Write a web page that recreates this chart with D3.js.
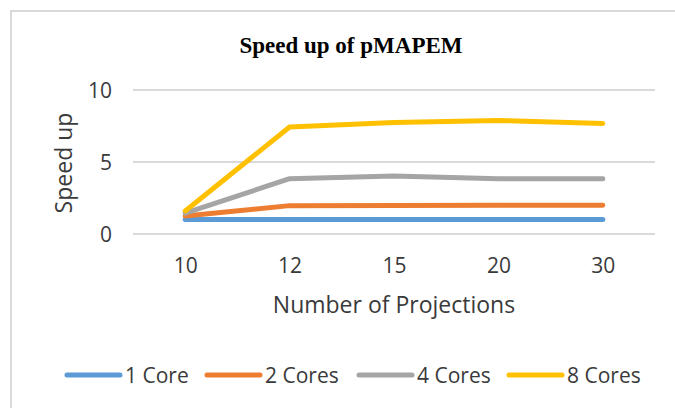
<!DOCTYPE html>
<meta charset="utf-8">
<style>
  body { margin: 0; background: #fff; }
  svg { display: block; }
  .grid line { stroke: #d9d9d9; stroke-width: 2px; }
  .tick text, .legend text, .axis-title { font-family: "Open Sans", sans-serif; fill: #3a3a3a; }
</style>
<body>
<script src="https://cdn.jsdelivr.net/npm/d3@7"></script>
<script>
  var projections = ["10", "12", "15", "20", "30"];
  var seriesNames = ["1 Core", "2 Cores", "4 Cores", "8 Cores"];
  var core1 = [1.0, 1.0, 1.0, 1.0, 1.0];
  var core2 = [1.25, 1.97, 1.98, 1.99, 2.0];
  var core4 = [1.45, 3.84, 4.02, 3.84, 3.84];
  var core8 = [1.6, 7.43, 7.75, 7.89, 7.68];
  var yTicks = [0, 5, 10];
  var colors = ["#5b9bd5", "#ed7d31", "#a5a5a5", "#ffc000"];

  var series = [core1, core2, core4, core8];

  var W = 675, H = 408;
  var plot = { left: 133, right: 655, top: 90, bottom: 234 };

  var svg = d3.select("body").append("svg")
    .attr("width", W)
    .attr("height", H);

  // chart area border (right/bottom edges fall outside the picture)
  svg.append("rect")
    .attr("x", 11).attr("y", 11)
    .attr("width", 720).attr("height", 440)
    .attr("fill", "#fff")
    .attr("stroke", "#d9d9d9")
    .attr("stroke-width", 2);

  var x = d3.scalePoint()
    .domain(projections)
    .range([plot.left, plot.right])
    .padding(0.5);

  var y = d3.scaleLinear()
    .domain([0, 10])
    .range([plot.bottom, plot.top]);

  // gridlines
  svg.append("g")
    .attr("class", "grid")
    .selectAll("line")
    .data(yTicks)
    .enter().append("line")
    .attr("x1", plot.left)
    .attr("x2", plot.right)
    .attr("y1", function (d) { return y(d); })
    .attr("y2", function (d) { return y(d); });

  // y axis labels
  var yAxis = d3.axisLeft(y).tickValues(yTicks).tickSize(0).tickPadding(0);
  var gy = svg.append("g")
    .attr("transform", "translate(112,0)")
    .call(yAxis);
  gy.select(".domain").remove();
  gy.selectAll(".tick text")
    .attr("font-size", 21)
    .attr("dy", "0.35em");

  // x axis labels
  var xAxis = d3.axisBottom(x).tickSize(0).tickPadding(0);
  var gx = svg.append("g")
    .attr("transform", "translate(0,258)")
    .call(xAxis);
  gx.select(".domain").remove();
  gx.selectAll(".tick text")
    .attr("font-size", 21)
    .attr("dy", "0.72em");

  // lines
  var line = d3.line()
    .x(function (d, i) { return x(projections[i]); })
    .y(function (d) { return y(d); });

  svg.append("g").selectAll("path")
    .data(series)
    .enter().append("path")
    .attr("d", line)
    .attr("fill", "none")
    .attr("stroke", function (d, i) { return colors[i]; })
    .attr("stroke-width", 5)
    .attr("stroke-linecap", "round")
    .attr("stroke-linejoin", "round");

  // title
  svg.append("text")
    .attr("x", 351)
    .attr("y", 53)
    .attr("text-anchor", "middle")
    .attr("font-family", "'Liberation Serif', 'Times New Roman', serif")
    .attr("font-weight", "bold")
    .attr("font-size", 23)
    .attr("fill", "#000")
    .text("Speed up of pMAPEM");

  // axis titles
  svg.append("text")
    .attr("class", "axis-title")
    .attr("x", (plot.left + plot.right) / 2)
    .attr("y", 313)
    .attr("text-anchor", "middle")
    .attr("font-size", 23)
    .text("Number of Projections");

  svg.append("text")
    .attr("class", "axis-title")
    .attr("transform", "translate(72,163) rotate(-90)")
    .attr("text-anchor", "middle")
    .attr("font-size", 23)
    .text("Speed up");

  // legend
  var legendX = [65, 205, 357, 507];
  var lg = svg.append("g")
    .attr("class", "legend")
    .selectAll("g")
    .data(seriesNames)
    .enter().append("g")
    .attr("transform", function (d, i) { return "translate(" + legendX[i] + ",375)"; });

  lg.append("line")
    .attr("x1", 2).attr("x2", 55)
    .attr("stroke", function (d, i) { return colors[i]; })
    .attr("stroke-width", 5)
    .attr("stroke-linecap", "round");

  lg.append("text")
    .attr("x", 60)
    .attr("y", 8)
    .attr("font-size", 21)
    .text(function (d) { return d; });
</script>
</body>
